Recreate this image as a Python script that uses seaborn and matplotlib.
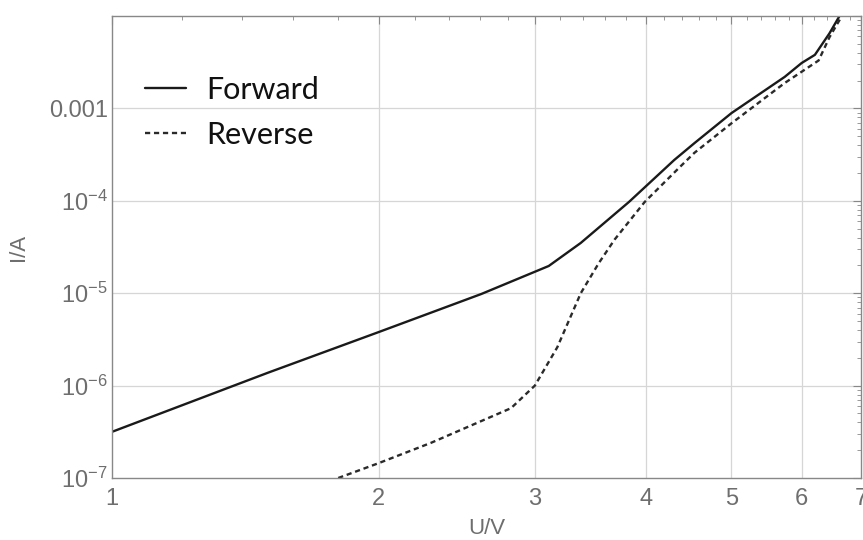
import numpy as np
import pandas as pd
import matplotlib
matplotlib.use("Agg")
import matplotlib.pyplot as plt
import seaborn as sns
from matplotlib.ticker import FixedLocator, NullFormatter, LogLocator

# ---- data ----
forward_u = [1.0, 1.5, 2.0, 2.61, 3.11, 3.38, 3.83, 4.31, 4.54, 5.0, 5.74, 6.0, 6.21, 6.45, 6.62]
forward_i = [3.16e-7, 1.38e-6, 3.8e-6, 9.8e-6, 1.97e-5, 3.5e-5, 9.7e-5, 2.77e-4, 4.2e-4,
             8.9e-4, 2.19e-3, 3.1e-3, 3.8e-3, 6.5e-3, 1.0e-2]
reverse_u = [1.80, 2.0, 2.29, 2.82, 3.0, 3.18, 3.38, 3.54, 3.69, 3.99, 4.36, 4.54,
             5.0, 5.74, 6.27, 6.45, 6.64]
reverse_i = [1.0e-7, 1.45e-7, 2.4e-7, 5.7e-7, 1.0e-6, 2.6e-6, 1.0e-5, 2.1e-5, 3.8e-5,
             9.7e-5, 2.26e-4, 3.3e-4, 6.9e-4, 1.88e-3, 3.3e-3, 5.9e-3, 9.5e-3]
x_ticks = [1, 2, 3, 4, 5, 6, 7]
y_ticks = [1e-7, 1e-6, 1e-5, 1e-4, 1e-3]
y_tick_labels = ["$10^{-7}$", "$10^{-6}$", "$10^{-5}$", "$10^{-4}$", "0.001"]
series_names = ["Forward", "Reverse"]

df = pd.concat([
    pd.DataFrame({"U": forward_u, "I": forward_i, "series": series_names[0]}),
    pd.DataFrame({"U": reverse_u, "I": reverse_i, "series": series_names[1]}),
], ignore_index=True)

sns.set_style("white")
plt.rcParams["font.family"] = ["Liberation Sans", "DejaVu Sans"]
plt.rcParams["mathtext.fontset"] = "custom"
plt.rcParams["mathtext.rm"] = "Liberation Sans"
plt.rcParams["mathtext.it"] = "Liberation Sans"

fig = plt.figure(figsize=(8.63, 5.40), dpi=100)
ax = fig.add_axes([112/863, 1-478/540, (861-112)/863, (478-16)/540])

sns.lineplot(data=df, x="U", y="I", hue="series", style="series",
             palette={"Forward": "#1a1a1a", "Reverse": "#2a2a2a"},
             dashes={"Forward": "", "Reverse": (2.2, 1.6)},
             sort=False, estimator=None, ax=ax, linewidth=1.7)

ax.set_xscale("log")
ax.set_yscale("log")
ax.set_xlim(1, 7)
ax.set_ylim(1e-7, 1e-2)

gray = "#6e6e6e"
ax.xaxis.set_major_locator(FixedLocator(x_ticks))
ax.set_xticklabels([str(t) for t in x_ticks])
minor_x = [round(v, 1) for v in np.arange(1.2, 7.0, 0.2) if abs(v - round(v)) > 1e-6]
ax.xaxis.set_minor_locator(FixedLocator(minor_x))
ax.xaxis.set_minor_formatter(NullFormatter())

ax.yaxis.set_major_locator(FixedLocator(y_ticks + [1e-2]))
ax.set_yticklabels(y_tick_labels + [""])
ax.yaxis.set_minor_locator(LogLocator(base=10, subs=np.arange(2, 10)))
ax.yaxis.set_minor_formatter(NullFormatter())

ax.tick_params(which="both", direction="in", top=True, right=True, colors="#888888",
               labelcolor=gray, labelsize=17)
ax.tick_params(which="major", length=6, width=0.8)
ax.tick_params(which="minor", length=3, width=0.6)
ax.tick_params(axis="x", pad=7)
ax.tick_params(axis="y", pad=3)

for gx in [2, 3, 4, 5, 6]:
    ax.axvline(gx, color="#d6d6d6", lw=0.9, zorder=0)
for gy in [1e-6, 1e-5, 1e-4, 1e-3]:
    ax.axhline(gy, color="#d6d6d6", lw=0.9, zorder=0)

for s in ax.spines.values():
    s.set_color("#888888")
    s.set_linewidth(1.0)

ax.set_xlabel("U/V", color=gray, fontsize=16, labelpad=6)
ax.set_ylabel("I/A", color=gray, fontsize=16, labelpad=14)

leg = ax.legend(loc="upper left", bbox_to_anchor=(0.044, 0.87), frameon=False,
                borderpad=0, borderaxespad=0,
                handlelength=1.35, handletextpad=0.65, labelspacing=0.55,
                prop={"family": "Lato", "size": 22})
for t in leg.get_texts():
    t.set_color("#111111")

fig.savefig("out.png", dpi=100)
